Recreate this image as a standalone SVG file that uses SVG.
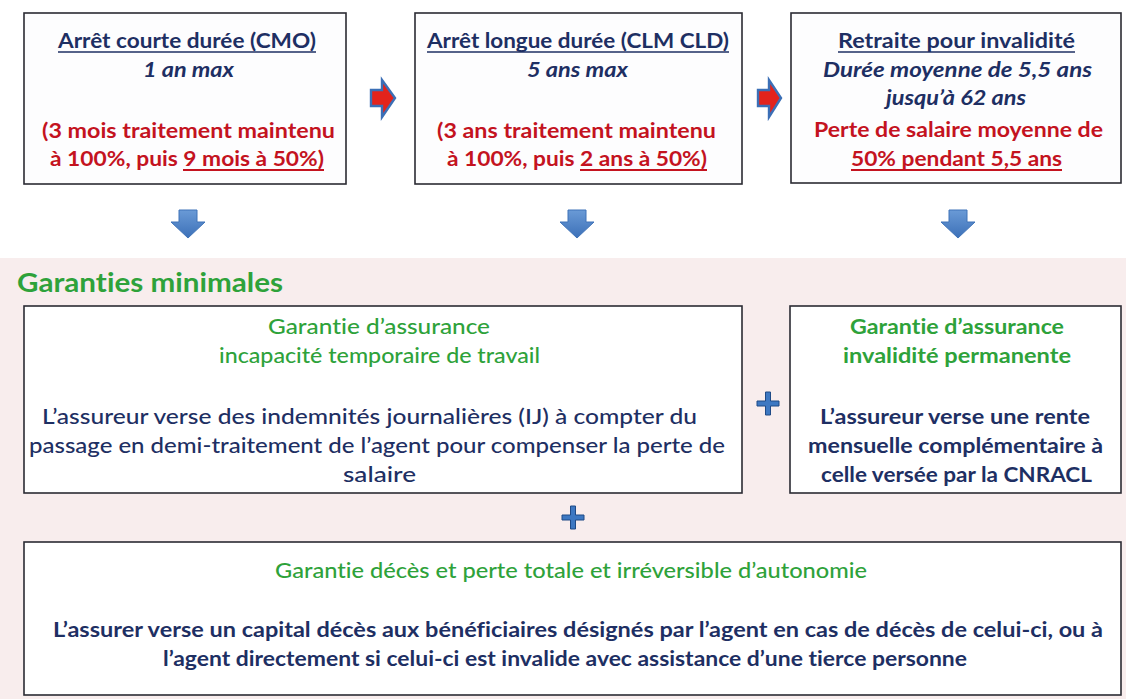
<svg xmlns="http://www.w3.org/2000/svg" width="1126" height="699" viewBox="0 0 1126 699">
<defs>
<style>
text{font-family:Lato,"Liberation Sans","DejaVu Sans",sans-serif;font-variant-ligatures:none;}
.box{fill:#fdfdfe;stroke:#2b2b33;stroke-width:1.6;}
.wbox{fill:#ffffff;stroke:#2b2b33;stroke-width:1.6;}
.nav{fill:#1e2f63;font-weight:700;font-size:21px;}
.navi{fill:#1e2f63;font-weight:700;font-style:italic;font-size:21px;}
.red{fill:#c4131f;font-weight:700;font-size:21px;}
.grn{fill:#2ea23a;font-size:21px;font-weight:600;}
.body{fill:#1e2f63;font-size:21px;font-weight:500;}
.ulN{stroke:#1e2f63;stroke-width:1.6;}
.ulR{stroke:#c4131f;stroke-width:1.8;}
.rarr{fill:#e3231c;stroke:#3b6fb6;stroke-width:2.4;stroke-linejoin:miter;}
.darr{fill:url(#bg);stroke:#3f73b8;stroke-width:1;}
.plus{fill:#3d78c2;stroke:#1f4a86;stroke-width:1;}
</style>
<linearGradient id="bg" x1="0" y1="0" x2="0" y2="1">
<stop offset="0" stop-color="#6a9ad6"/>
<stop offset="1" stop-color="#3c70b8"/>
</linearGradient>
</defs>
<rect x="0" y="0" width="1126" height="699" fill="#ffffff"/>
<rect x="0" y="258" width="1126" height="441" fill="#f8eded"/>

<g id="connectors">
<path class="rarr" d="M371,90 H382 V80 L395,98 L382,117 V106 H371 Z"/>
<path class="rarr" d="M758,90 H769 V80 L781,98 L769,117 V106 H758 Z"/>
<path class="darr" d="M179,210 H197 V222 H205 L188,238 L171,222 H179 Z"/>
<path class="darr" d="M568,210 H586 V222 H594 L577,238 L560,222 H568 Z"/>
<path class="darr" d="M949,210 H967 V222 H975 L958,238 L941,222 H949 Z"/>
<path class="plus" d="M765.5,392 H770.5 V401 H779 V406 H770.5 V415 H765.5 V406 H757 V401 H765.5 Z"/>
<path class="plus" d="M570.5,506 H575.5 V515 H584 V520 H575.5 V529 H570.5 V520 H562 V515 H570.5 Z"/>
</g>

<g id="box-cmo">
<rect class="box" x="24" y="13" width="322" height="171"/>
<text class="nav" x="58" y="48" textLength="258" lengthAdjust="spacingAndGlyphs">Arrêt courte durée (CMO)</text>
<line class="ulN" x1="58" y1="52" x2="316" y2="52"/>
<text class="navi" x="143" y="77" textLength="91" lengthAdjust="spacingAndGlyphs">1 an max</text>
<text class="red" x="42" y="138" textLength="293" lengthAdjust="spacingAndGlyphs">(3 mois traitement maintenu</text>
<text class="red" x="50" y="166" textLength="274" lengthAdjust="spacingAndGlyphs">à 100%, puis 9 mois à 50%)</text>
<line class="ulR" x1="183" y1="170" x2="324" y2="170"/>
</g>

<g id="box-clm">
<rect class="box" x="415" y="13" width="327" height="171"/>
<text class="nav" x="427" y="48" textLength="302" lengthAdjust="spacingAndGlyphs">Arrêt longue durée (CLM CLD)</text>
<line class="ulN" x1="427" y1="52" x2="729" y2="52"/>
<text class="navi" x="527" y="77" textLength="101" lengthAdjust="spacingAndGlyphs">5 ans max</text>
<text class="red" x="437" y="138" textLength="279" lengthAdjust="spacingAndGlyphs">(3 ans traitement maintenu</text>
<text class="red" x="447" y="166" textLength="260" lengthAdjust="spacingAndGlyphs">à 100%, puis 2 ans à 50%)</text>
<line class="ulR" x1="580" y1="170" x2="707" y2="170"/>
</g>

<g id="box-retraite">
<rect class="box" x="791" y="13" width="330" height="170"/>
<text class="nav" x="838" y="48" textLength="237" lengthAdjust="spacingAndGlyphs">Retraite pour invalidité</text>
<line class="ulN" x1="838" y1="52" x2="1075" y2="52"/>
<text class="navi" x="823" y="77" textLength="269" lengthAdjust="spacingAndGlyphs">Durée moyenne de 5,5 ans</text>
<text class="navi" x="886" y="105" textLength="140" lengthAdjust="spacingAndGlyphs">jusqu’à 62 ans</text>
<text class="red" x="814" y="137" textLength="289" lengthAdjust="spacingAndGlyphs">Perte de salaire moyenne de</text>
<text class="red" x="851" y="166" textLength="211" lengthAdjust="spacingAndGlyphs">50% pendant 5,5 ans</text>
<line class="ulR" x1="851" y1="170" x2="1062" y2="170"/>
</g>

<g id="title-garanties">
<text x="17" y="292" textLength="266" lengthAdjust="spacingAndGlyphs" style="fill:#2ea23a;font-weight:700;font-size:26px">Garanties minimales</text>
</g>

<g id="box-itt">
<rect class="wbox" x="24" y="306" width="718" height="187"/>
<text class="grn" x="268" y="334" textLength="222" lengthAdjust="spacingAndGlyphs" style="font-weight:500">Garantie d’assurance</text>
<text class="grn" x="219" y="363" textLength="321" lengthAdjust="spacingAndGlyphs" style="font-weight:500">incapacité temporaire de travail</text>
<text class="body" x="42" y="424" textLength="655" lengthAdjust="spacingAndGlyphs">L’assureur verse des indemnités journalières (IJ) à compter du</text>
<text class="body" x="29" y="453" textLength="696" lengthAdjust="spacingAndGlyphs">passage en demi-traitement de l’agent pour compenser la perte de</text>
<text class="body" x="343" y="482" textLength="73" lengthAdjust="spacingAndGlyphs">salaire</text>
</g>

<g id="box-ip">
<rect class="wbox" x="790" y="306" width="331" height="187"/>
<text class="grn" x="850" y="334" textLength="214" lengthAdjust="spacingAndGlyphs" style="font-weight:700">Garantie d’assurance</text>
<text class="grn" x="843" y="363" textLength="228" lengthAdjust="spacingAndGlyphs" style="font-weight:700">invalidité permanente</text>
<text class="body" x="820" y="424" textLength="270" lengthAdjust="spacingAndGlyphs" style="font-weight:700">L’assureur verse une rente</text>
<text class="body" x="808" y="453" textLength="295" lengthAdjust="spacingAndGlyphs" style="font-weight:700">mensuelle complémentaire à</text>
<text class="body" x="821" y="482" textLength="271" lengthAdjust="spacingAndGlyphs" style="font-weight:700">celle versée par la CNRACL</text>
</g>

<g id="box-deces">
<rect class="wbox" x="24" y="542" width="1097" height="153"/>
<text class="grn" x="275" y="578" textLength="592" lengthAdjust="spacingAndGlyphs" style="font-weight:500">Garantie décès et perte totale et irréversible d’autonomie</text>
<text class="body" x="53" y="637" textLength="1050" lengthAdjust="spacingAndGlyphs" style="font-weight:700">L’assurer verse un capital décès aux bénéficiaires désignés par l’agent en cas de décès de celui-ci, ou à</text>
<text class="body" x="163" y="666" textLength="804" lengthAdjust="spacingAndGlyphs" style="font-weight:700">l’agent directement si celui-ci est invalide avec assistance d’une tierce personne</text>
</g>
</svg>
